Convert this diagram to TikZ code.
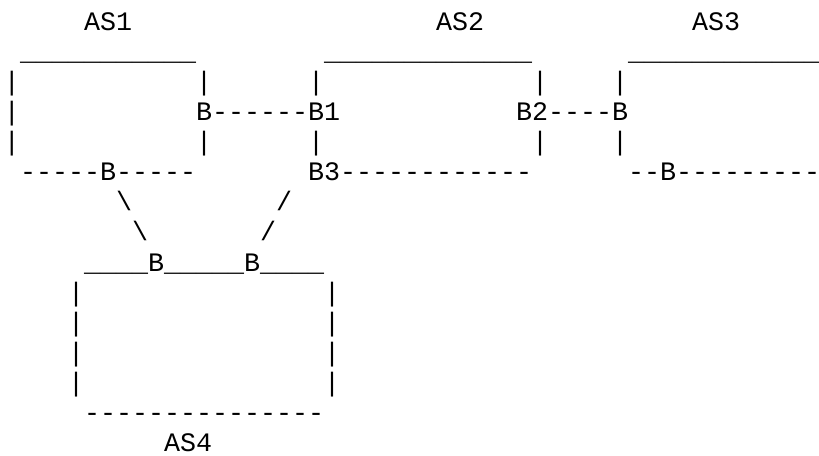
\documentclass[tikz,border=0pt]{standalone}
\usepackage{fontspec}
\setmonofont{Liberation Mono}
\tikzset{
  asc/.style={anchor=base west, inner sep=0pt, outer sep=0pt,
    font=\ttfamily\fontsize{26.67}{30}\selectfont, text=black}
}
\newcommand\asciiseg[4]{\node[asc] (#1) at ({4+#2*16},{30.2+(#3-1)*30.1}) {#4};}
\begin{document}
\begin{tikzpicture}[x=1pt,y=-1pt]
\useasboundingbox[fill=white] (0,0) rectangle (819,455);
% row 1
\asciiseg{asone}{5}{1}{AS1}
\asciiseg{astwo}{27}{1}{AS2}
\asciiseg{asthree}{43}{1}{AS3}
% row 2
\asciiseg{topone}{1}{2}{\detokenize{___________}}
\asciiseg{toptwo}{20}{2}{\detokenize{_____________}}
\asciiseg{topthree}{39}{2}{\detokenize{____________}}
% row 3
\asciiseg{rthreea}{0}{3}{|}
\asciiseg{rthreeb}{12}{3}{|}
\asciiseg{rthreec}{19}{3}{|}
\asciiseg{rthreed}{33}{3}{|}
\asciiseg{rthreee}{38}{3}{|}
% row 4
\asciiseg{rfoura}{0}{4}{|}
\asciiseg{rfourb}{12}{4}{B------B1}
\asciiseg{rfourc}{32}{4}{B2----B}
% row 5
\asciiseg{rfivea}{0}{5}{|}
\asciiseg{rfiveb}{12}{5}{|}
\asciiseg{rfivec}{19}{5}{|}
\asciiseg{rfived}{33}{5}{|}
\asciiseg{rfivee}{38}{5}{|}
% row 6
\asciiseg{botone}{1}{6}{-----B-----}
\asciiseg{bottwo}{19}{6}{B3------------}
\asciiseg{botthree}{39}{6}{--B---------}
% rows 7-8
\asciiseg{lnka}{7}{7}{\textbackslash}
\asciiseg{lnkb}{17}{7}{/}
\asciiseg{lnkc}{8}{8}{\textbackslash}
\asciiseg{lnkd}{16}{8}{/}
% row 9
\asciiseg{topfour}{5}{9}{\detokenize{____B_____B____}}
% rows 10-13
\foreach \r/\n in {10/a,11/b,12/c,13/d}{
  \asciiseg{lft\n}{4}{\r}{|}
  \asciiseg{rgt\n}{20}{\r}{|}
}
% row 14
\asciiseg{botfour}{5}{14}{---------------}
% row 15
\asciiseg{asfour}{10}{15}{AS4}
\end{tikzpicture}
\end{document}
